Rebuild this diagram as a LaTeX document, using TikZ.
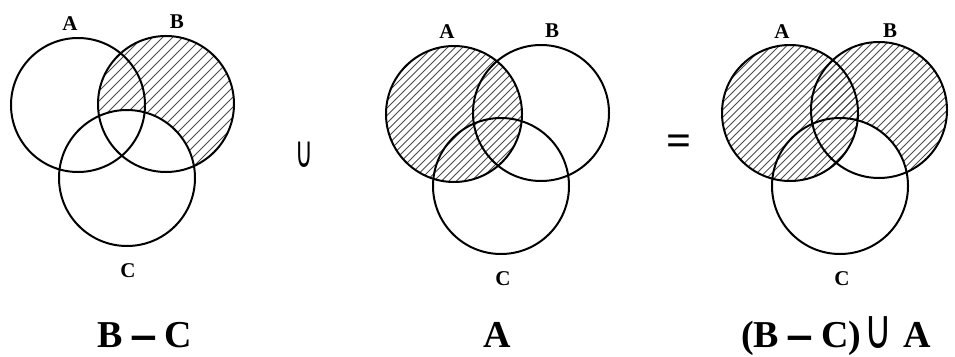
\documentclass[tikz,border=0pt]{standalone}
\usepackage{fontspec}
\usepackage{graphicx}
\setmainfont{Liberation Serif}
\newfontfamily\dejavu{DejaVu Sans}
\tikzset{
  setcircle/.style={draw=black, line width=2pt},
  hatchline/.style={draw=black!70, line width=0.9pt},
  setlabel/.style={font=\fontsize{21}{22}\selectfont\bfseries, anchor=base, inner sep=0pt},
  settitle/.style={font=\fontsize{38}{40}\selectfont\bfseries, anchor=base, inner sep=0pt},
}
\newcommand\myhatch[1]{\foreach \c in {0,#1,...,1400} \draw[hatchline] (\c,0) -- (\c-380,380);}
\newcommand\bigdash{\raisebox{-0.14em}{\scalebox{1.2}[1.6]{–}}}
\begin{document}
\begin{tikzpicture}[x=1pt,y=-1pt]
\useasboundingbox (0,0) rectangle (955,356);
\fill[white] (0,0) rectangle (955,356);
% ---------- Diagram 1: B - C
\coordinate (a1) at (78,105);
\coordinate (b1) at (166,104);
\coordinate (c1) at (127,178);
\begin{scope}
  \clip (b1) circle (68);
  \myhatch{10}
  \fill[white] (c1) circle (68);
\end{scope}
\draw[setcircle] (a1) circle (67);
\draw[setcircle] (b1) circle (68);
\draw[setcircle] (c1) circle (68);
\node[setlabel] (la1) at (70,30) {A};
\node[setlabel] (lb1) at (177,28) {B};
\node[setlabel] (lc1) at (128,277) {C};
\node[settitle] (t1) at (145,347) {B\hspace{0.25em}\bigdash\hspace{0.25em}C};
% union sign
\node[inner sep=0pt] (u) at (304,155) {\scalebox{0.55}[1]{\dejavu\fontsize{44}{46}\selectfont ∪}};
% ---------- Diagram 2: A
\coordinate (a2) at (454,114);
\coordinate (b2) at (541,113);
\coordinate (c2) at (501,186);
\begin{scope}
  \clip (a2) circle (68);
  \myhatch{7.5}
\end{scope}
\draw[setcircle] (a2) circle (68);
\draw[setcircle] (b2) circle (68);
\draw[setcircle] (c2) circle (68);
\node[setlabel] (la2) at (447,38) {A};
\node[setlabel] (lb2) at (552,37) {B};
\node[setlabel] (lc2) at (503,285) {C};
\node[settitle] (t2) at (497,347) {A};
% equals sign
\node[inner sep=0pt, font=\fontsize{44}{46}\selectfont\bfseries] (eq) at (679,145) {=};
% ---------- Diagram 3: (B - C) U A
\coordinate (a3) at (790,113);
\coordinate (b3) at (879,110);
\coordinate (c3) at (840,186);
\begin{scope}
  \clip (b3) circle (68);
  \myhatch{7.5}
  \fill[white] (c3) circle (68);
\end{scope}
\begin{scope}
  \clip (a3) circle (68);
  \myhatch{7.5}
\end{scope}
\draw[setcircle] (a3) circle (68);
\draw[setcircle] (b3) circle (68);
\draw[setcircle] (c3) circle (68);
\node[setlabel] (la3) at (782,38) {A};
\node[setlabel] (lb3) at (890,37) {B};
\node[setlabel] (lc3) at (842,285) {C};
\node[settitle] (t3) at (836,347) {(B\hspace{0.25em}\bigdash\hspace{0.25em}C)\hspace{0.08em}\raisebox{-0.05em}{\scalebox{1}[1.45]{\dejavu\mdseries ∪}}\hspace{0.3em}A};
\end{tikzpicture}
\end{document}
